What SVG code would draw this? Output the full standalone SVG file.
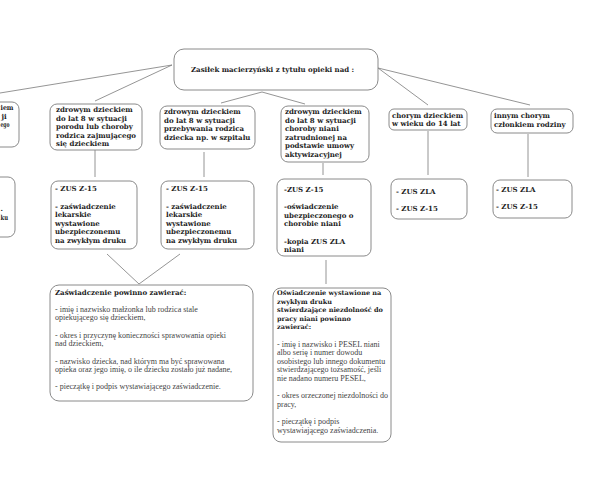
<svg xmlns="http://www.w3.org/2000/svg" width="600" height="480" viewBox="0 0 600 480">
<style>
.box{fill:#fff;stroke:#8a8a8a;stroke-width:1}
.b{font-family:"DejaVu Serif","Liberation Serif",serif;font-weight:bold;font-size:7px;fill:#1e1e1e}
.bs{font-family:"DejaVu Serif","Liberation Serif",serif;font-weight:bold;font-size:6.5px;fill:#1e1e1e}
.r{font-family:"Liberation Serif",serif;font-size:8px;fill:#444}
.ln{stroke:#7a7a7a;stroke-width:0.8;fill:none}
</style>
<rect width="600" height="480" fill="#fff"/>
<g id="connectors">
<line class="ln" x1="172" y1="65" x2="0" y2="93"/>
<line class="ln" x1="172" y1="65" x2="95" y2="101"/>
<polyline class="ln" points="221,103 262,92 305,104"/>
<line class="ln" x1="378" y1="68" x2="428" y2="105"/>
<line class="ln" x1="378" y1="68" x2="530" y2="105"/>
<line class="ln" x1="95" y1="150" x2="95" y2="177"/>
<line class="ln" x1="204" y1="152" x2="204" y2="177"/>
<line class="ln" x1="323" y1="163" x2="323" y2="175"/>
<line class="ln" x1="428" y1="131" x2="428" y2="175"/>
<line class="ln" x1="528" y1="134" x2="528" y2="177"/>
<polyline class="ln" points="107,254 139,284 180,254"/>
<line class="ln" x1="326" y1="260" x2="326" y2="284"/>
</g>
<g id="top">
<rect class="box" x="174" y="49" width="204" height="41" rx="10"/>
<text class="b" x="191" y="72">Zasiłek macierzyński z tytułu opieki nad :</text>
</g>
<g id="cut1">
<rect class="box" x="-20" y="102" width="39" height="45" rx="7"/>
<text class="b" x="0.5" y="110" textLength="13" lengthAdjust="spacingAndGlyphs">iem</text>
<text class="b" x="1.5" y="118.5">ji</text>
<text class="b" x="0.5" y="127" textLength="9" lengthAdjust="spacingAndGlyphs">ego</text>
</g>
<g id="cut2">
<rect class="box" x="-20" y="177" width="35" height="60" rx="7"/>
<text class="b" x="0.5" y="211">.</text>
<text class="b" x="0.5" y="220" textLength="7.5" lengthAdjust="spacingAndGlyphs">ku</text>
</g>
<g id="nodeA">
<rect class="box" x="50" y="104" width="92" height="46" rx="7"/>
<text class="b"><tspan x="56" y="112">zdrowym dzieckiem</tspan><tspan x="56" y="120.5">do lat 8 w sytuacji</tspan><tspan x="56" y="129">porodu lub choroby</tspan><tspan x="56" y="137.5">rodzica zajmującego</tspan><tspan x="56" y="146">się dzieckiem</tspan></text>
</g>
<g id="nodeB">
<rect class="box" x="160" y="106" width="95" height="43" rx="7"/>
<text class="b"><tspan x="164" y="114">zdrowym dzieckiem</tspan><tspan x="164" y="122.5">do lat 8 w sytuacji</tspan><tspan x="164" y="131">przebywania rodzica</tspan><tspan x="164" y="139.5">dziecka np. w szpitalu</tspan></text>
</g>
<g id="nodeC">
<rect class="box" x="281" y="106" width="88" height="56" rx="7"/>
<text class="b"><tspan x="285" y="114">zdrowym dzieckiem</tspan><tspan x="285" y="122.5">do lat 8 w sytuacji</tspan><tspan x="285" y="131">choroby niani</tspan><tspan x="285" y="139.5">zatrudnionej na</tspan><tspan x="285" y="148">podstawie umowy</tspan><tspan x="285" y="156.5">aktywizacyjnej</tspan></text>
</g>
<g id="nodeD">
<rect class="box" x="389" y="109" width="78" height="21" rx="5"/>
<text class="b"><tspan x="392" y="117.5">chorym dzieckiem</tspan><tspan x="392" y="126">w wieku do 14 lat</tspan></text>
</g>
<g id="nodeE">
<rect class="box" x="491" y="109" width="82" height="24" rx="6"/>
<text class="b"><tspan x="494" y="118">innym chorym</tspan><tspan x="494" y="126.5">członkiem rodziny</tspan></text>
</g>
<g id="nodeA2">
<rect class="box" x="51" y="181" width="86" height="68" rx="7"/>
<text class="b"><tspan x="55" y="191">- ZUS Z-15</tspan><tspan x="55" y="208.5">- zaświadczenie</tspan><tspan x="55" y="217">lekarskie</tspan><tspan x="55" y="225.5">wystawione</tspan><tspan x="55" y="234">ubezpieczonemu</tspan><tspan x="55" y="242.5">na zwykłym druku</tspan></text>
</g>
<g id="nodeB2">
<rect class="box" x="161" y="181" width="93" height="68" rx="7"/>
<text class="b"><tspan x="166" y="191">- ZUS Z-15</tspan><tspan x="166" y="208.5">- zaświadczenie</tspan><tspan x="166" y="217">lekarskie</tspan><tspan x="166" y="225.5">wystawione</tspan><tspan x="166" y="234">ubezpieczonemu</tspan><tspan x="166" y="242.5">na zwykłym druku</tspan></text>
</g>
<g id="nodeC2">
<rect class="box" x="277" y="179" width="94" height="77" rx="7"/>
<text class="b"><tspan x="284" y="191.5">-ZUS Z-15</tspan><tspan x="284" y="209">-oświadczenie</tspan><tspan x="284" y="217.5">ubezpieczonego o</tspan><tspan x="284" y="226">chorobie niani</tspan><tspan x="284" y="243.5">-kopia ZUS ZLA</tspan><tspan x="284" y="252">niani</tspan></text>
</g>
<g id="nodeD2">
<rect class="box" x="391" y="179" width="76" height="40" rx="7"/>
<text class="b"><tspan x="396" y="193.5">- ZUS ZLA</tspan><tspan x="396" y="211">- ZUS Z-15</tspan></text>
</g>
<g id="nodeE2">
<rect class="box" x="493" y="180" width="79" height="38" rx="7"/>
<text class="b"><tspan x="496" y="191.5">- ZUS ZLA</tspan><tspan x="496" y="209">- ZUS Z-15</tspan></text>
</g>
<g id="bottomLeft">
<rect class="box" x="50" y="285" width="203" height="116" rx="9"/>
<text class="b" x="55" y="295">Zaświadczenie powinno zawierać:</text>
<text class="r"><tspan x="55" y="311.5">- imię i nazwisko małżonka lub rodzica stale</tspan><tspan x="55" y="320">opiekującego się dzieckiem,</tspan><tspan x="55" y="337.5">- okres i przyczynę konieczności sprawowania opieki</tspan><tspan x="55" y="346">nad dzieckiem,</tspan><tspan x="55" y="363.5">- nazwisko dziecka, nad którym ma być sprawowana</tspan><tspan x="55" y="372">opieka oraz jego imię, o ile dziecku zostało już nadane,</tspan><tspan x="55" y="389">- pieczątkę i podpis wystawiającego zaświadczenie.</tspan></text>
</g>
<g id="bottomRight">
<rect class="box" x="273" y="288" width="118" height="154" rx="8"/>
<text class="bs"><tspan x="277" y="295">Oświadczenie wystawione na</tspan><tspan x="277" y="303.5">zwykłym druku</tspan><tspan x="277" y="312">stwierdzające niezdolność do</tspan><tspan x="277" y="320.5">pracy niani powinno</tspan><tspan x="277" y="329">zawierać:</tspan></text>
<text class="r"><tspan x="277" y="346.5">- imię i nazwisko i PESEL niani</tspan><tspan x="277" y="355">albo serię i numer dowodu</tspan><tspan x="277" y="363.5">osobistego lub innego dokumentu</tspan><tspan x="277" y="372">stwierdzającego tożsamość, jeśli</tspan><tspan x="277" y="380.5">nie nadano numeru PESEL,</tspan><tspan x="277" y="398">- okres orzeczonej niezdolności do</tspan><tspan x="277" y="406.5">pracy,</tspan><tspan x="277" y="424">- pieczątkę i podpis</tspan><tspan x="277" y="432.5">wystawiającego zaświadczenia.</tspan></text>
</g>
</svg>
